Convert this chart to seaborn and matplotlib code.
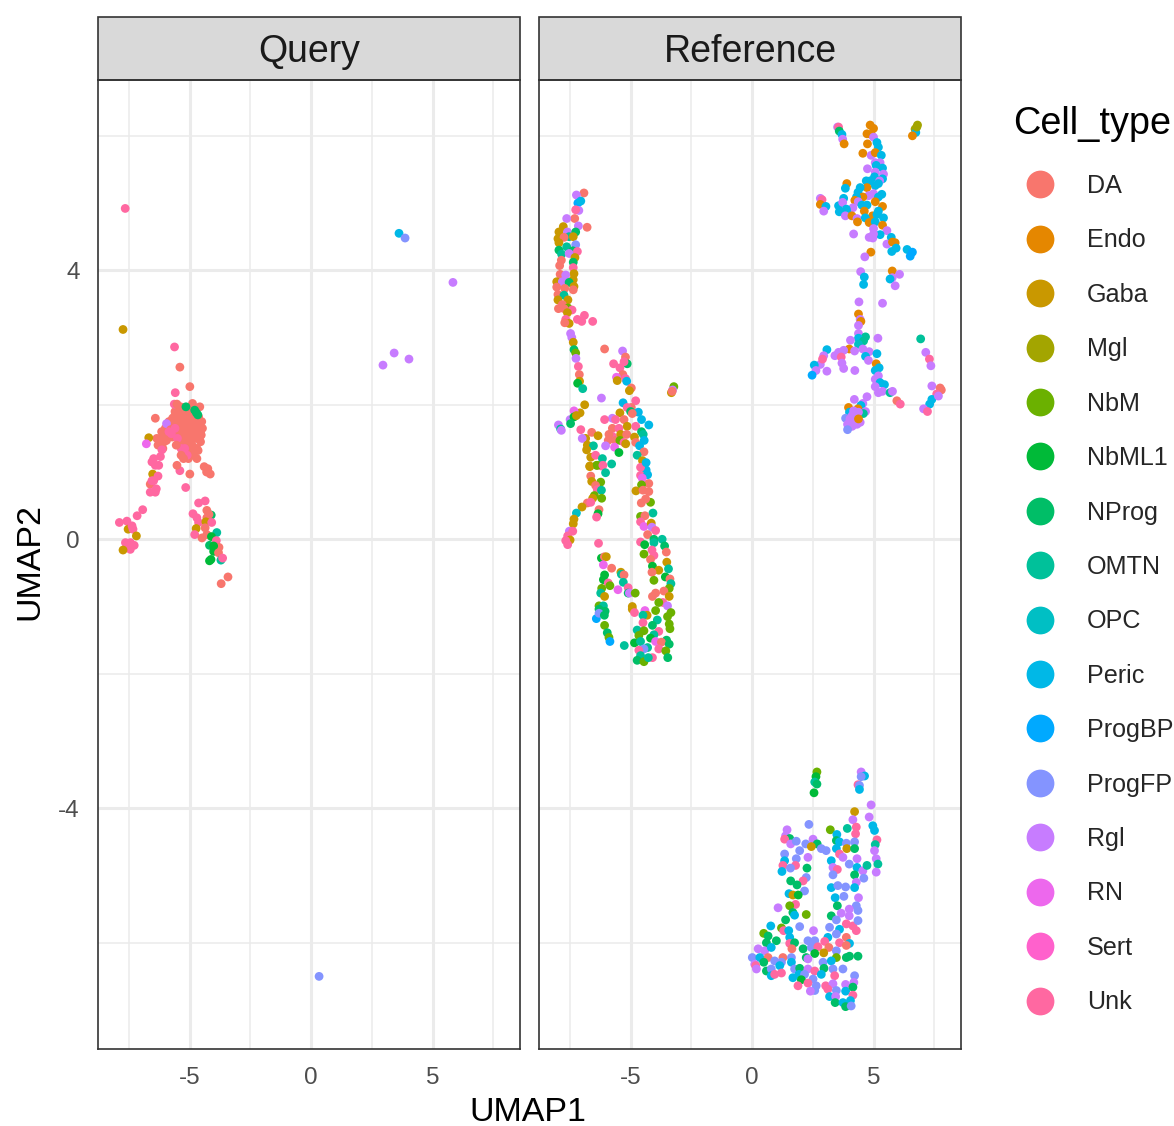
import matplotlib
matplotlib.use("Agg")
import matplotlib.pyplot as plt
from matplotlib.lines import Line2D
from matplotlib.patches import Rectangle
import pandas as pd
import seaborn as sns

W, H = 1174, 1126

cell_types = ["DA", "Endo", "Gaba", "Mgl", "NbM", "NbML1", "NProg", "OMTN",
              "OPC", "Peric", "ProgBP", "ProgFP", "Rgl", "RN", "Sert", "Unk"]
type_colors = ["#F8766D", "#E58700", "#C99800", "#A3A500", "#6BB100", "#00BA38",
               "#00BE67", "#00C19A", "#00BFC4", "#00B8E7", "#00A9FF", "#8494FF",
               "#C77CFF", "#ED68ED", "#FF61CC", "#FF68A1"]
DA, ENDO, GABA, MGL, NBM, NBML1, NPROG, OMTN, OPC, PERIC, BP, FP, RGL, RN, SERT, UNK = range(16)

# values: (UMAP1, UMAP2, cell type)
query_far = [(-7.65,4.92,UNK),(-7.74,3.12,GABA),(3.62,4.55,PERIC),(3.87,4.48,FP),(5.84,3.82,RGL),
             (2.96,2.59,RGL),(3.42,2.77,RGL),(4.03,2.68,RGL),(0.33,-6.5,FP)]
query_low_left = [(-6.93,0.44,UNK),(-7.16,0.35,UNK),(-7.89,0.25,UNK),(-7.58,0.27,UNK),(-7.53,0.15,GABA),
                  (-7.37,0.2,UNK),(-7.33,0.15,UNK),(-7.19,0.05,GABA),(-7.64,-0.05,UNK),(-7.44,-0.05,UNK),
                  (-7.28,-0.09,UNK),(-7.44,-0.15,UNK),(-7.58,-0.07,UNK),(-7.74,-0.16,GABA)]
query_left_arm = [(-6.52,0.97,GABA),(-6.3,0.94,UNK),(-6.62,0.82,DA),(-6.55,0.87,UNK),(-6.37,0.75,UNK),
                  (-6.62,0.7,UNK),(-6.41,0.7,UNK),(-6.48,0.87,UNK),(-5.16,0.77,UNK),(-4.99,0.97,DA),
                  (-5.4,1.02,UNK),(-5.52,1.1,DA),(-6.55,1.15,UNK),(-6.41,1.1,UNK),(-6.27,1.1,UNK),
                  (-6.48,1.2,UNK),(-6.2,1.23,UNK),(-6.14,1.33,UNK),(-6.68,1.51,GABA),(-6.78,1.42,RN)]
query_dome = [(-6.41,1.8,DA),(-6.2,1.5,DA),(-6.15,1.6,DA),(-6.0,1.65,DA),(-6.05,1.45,DA),(-5.9,1.55,DA),
              (-6.1,1.35,DA),(-6.3,1.4,DA),(-6.35,1.5,DA),(-5.85,1.75,DA),(-5.75,1.7,DA),(-5.7,1.8,DA),
              (-5.6,1.9,DA),(-5.6,1.75,DA),(-5.5,1.85,DA),(-5.45,1.95,DA),(-5.35,1.9,DA),(-5.3,1.8,DA),
              (-5.4,1.7,DA),(-5.25,1.95,DA),(-5.2,1.85,DA),(-5.1,1.9,DA),(-5.05,1.8,DA),(-5.15,1.7,DA),
              (-5.0,1.85,DA),(-4.95,1.7,DA),(-4.85,1.8,DA),(-4.8,1.7,DA),(-4.7,1.75,DA),(-4.6,1.7,DA),
              (-4.55,1.6,DA),(-4.7,1.6,DA),(-4.85,1.6,DA),(-5.0,1.6,DA),(-5.15,1.6,DA),(-5.3,1.6,DA),
              (-5.5,1.6,DA),(-5.65,1.6,DA),(-4.6,1.5,DA),(-4.75,1.5,DA),(-4.9,1.5,DA),(-5.05,1.5,DA),
              (-4.55,1.45,DA),(-4.7,1.35,DA),(-4.65,1.32,DA),(-4.9,1.4,DA),(-5.0,1.3,DA),(-5.15,1.4,DA),
              (-5.3,1.45,DA),(-4.85,1.25,DA),(-5.05,1.2,DA),(-4.7,1.2,DA),(-5.63,2.01,UNK),(-5.52,2.01,DA),
              (-5.62,2.86,UNK),(-5.4,2.56,DA),(-4.99,2.27,DA),(-5.59,2.18,UNK),(-4.88,2.02,DA),
              (-4.58,1.97,DA),(-5.95,1.72,RGL),(-5.42,1.82,DA),(-5.27,1.73,DA),(-5.08,1.74,DA),(-4.92,1.92,DA),
              (-4.78,1.83,DA),(-4.63,1.82,DA),(-5.55,1.67,DA),(-5.72,1.52,DA),(-5.95,1.47,DA),(-6.22,1.42,DA),
              (-6.08,1.55,DA),(-5.43,1.54,DA),(-5.22,1.52,DA),(-4.97,1.44,DA),(-4.82,1.36,DA),(-4.52,1.55,DA),
              (-4.47,1.65,DA),(-4.5,1.75,DA),(-5.62,1.83,DA),(-5.78,1.63,DA),(-5.37,1.97,DA),(-5.14,1.8,DA),
              (-5.85,1.6,UNK),(-5.6,1.65,UNK),(-5.75,1.57,UNK),(-5.5,1.5,UNK),(-5.35,1.35,UNK),(-5.55,1.4,DA),
              (-5.2,1.35,UNK),(-5.1,1.25,UNK),(-5.35,1.25,DA),(-5.25,1.2,DA),(-4.4,1.08,DA),(-4.25,1.05,DA),
              (-4.3,1.0,DA),(-4.15,0.97,DA),(-5.15,1.97,NPROG),(-4.79,1.92,NPROG),(-4.66,1.85,NPROG),(-4.72,1.88,NPROG)]
query_right_arm = [(-4.63,0.54,UNK),(-4.36,0.57,UNK),(-4.86,0.38,UNK),(-4.29,0.43,DA),(-4.11,0.36,NPROG),
                   (-4.7,0.32,UNK),(-4.63,0.25,UNK),(-4.29,0.32,DA),(-4.2,0.37,DA),(-4.33,0.26,GABA),
                   (-4.73,0.16,GABA),(-4.79,0.07,UNK),(-4.09,0.25,UNK),(-4.36,0.17,DA),(-3.88,0.1,OMTN),
                   (-4.49,0.02,DA),(-4.29,0.07,DA),(-4.1,0.04,NBML1),(-3.9,-0.02,UNK),(-3.79,-0.12,DA),
                   (-4.18,-0.09,NPROG),(-4.01,-0.1,NBML1),(-4.01,-0.18,NBML1),(-3.81,-0.2,DA),
                   (-4.18,-0.32,NBML1),(-4.12,-0.3,NBML1),(-3.71,-0.31,OMTN),(-3.64,-0.28,UNK),
                   (-3.42,-0.56,DA),(-3.7,-0.66,DA)]

ref_left_top = [(-6.92,5.15,DA),(-7.23,5.12,RGL),(-7.17,5.0,BP),(-7.05,5.03,PERIC),(-7.13,4.89,RGL),(-7.26,4.9,UNK),
                (-7.3,4.77,DA),(-7.63,4.77,RGL),(-7.15,4.66,RGL),(-6.79,4.64,DA),(-7.77,4.65,GABA),(-7.95,4.57,GABA),
                (-7.6,4.57,RGL),(-7.26,4.57,NPROG),(-7.53,4.5,OMTN),(-7.36,4.5,GABA),(-7.99,4.47,GABA),(-7.74,4.49,DA),
                (-7.95,4.41,GABA),(-7.26,4.38,FP),(-7.63,4.35,OMTN),(-7.95,4.3,NPROG),(-7.38,4.29,NPROG),(-7.19,4.28,UNK),
                (-7.84,4.24,OMTN),(-7.53,4.25,RGL),(-7.29,4.19,GABA),(-7.36,4.12,NPROG),(-7.85,4.15,DA),(-7.92,4.07,DA),
                (-7.36,4.04,UNK),(-7.9,3.94,DA),(-7.33,3.95,GABA),(-7.67,3.93,RGL),(-7.36,3.86,GABA),(-8.04,3.83,GABA),
                (-7.81,3.83,RGL),(-7.53,3.82,NPROG),(-7.33,3.76,GABA),(-8.04,3.75,DA),(-7.71,3.73,DA),(-7.36,3.71,DA),
                (-7.99,3.64,DA),(-7.74,3.63,OMTN),(-7.58,3.56,GABA),(-7.99,3.56,GABA),(-7.81,3.49,DA),(-7.58,3.44,NBM),
                (-7.97,3.43,DA),(-7.74,3.43,DA),(-7.41,3.41,UNK),(-7.6,3.37,GABA),(-7.67,3.27,UNK),(-7.53,3.21,GABA),
                (-7.71,3.22,DA),(-7.19,3.27,UNK),(-7.01,3.24,UNK),(-6.9,3.33,UNK),(-6.56,3.24,UNK)]
ref_left_mid = [(-7.47,3.06,RGL),(-7.42,3.0,RGL),(-7.36,2.93,GABA),(-7.33,2.82,NPROG),(-7.26,2.77,NBM),(-7.25,2.69,RGL),
                (-7.15,2.57,UNK),(-7.11,2.45,DA),(-7.1,2.35,GABA),(-7.18,2.32,NBML1),(-6.97,2.24,OMTN),(-6.07,2.83,DA),
                (-5.33,2.8,RGL),(-5.21,2.71,DA),(-5.14,2.61,NPROG),(-5.27,2.64,UNK),(-5.7,2.61,UNK),(-5.44,2.55,UNK),
                (-5.32,2.45,DA),(-5.58,2.41,RN),(-5.55,2.36,GABA),(-5.21,2.39,UNK),(-5.16,2.35,PERIC),(-4.97,2.25,DA),
                (-5.05,2.21,GABA),(-3.22,2.27,NBM),(-3.27,2.22,RGL),(-3.32,2.18,GABA),(-3.29,2.2,DA),(-6.2,2.1,RGL),
                (-6.89,2.0,GABA),(-7.08,1.88,GABA),(-7.33,1.91,RN),(-7.49,1.78,RGL),(-7.33,1.82,NBML1),(-7.23,1.84,GABA),
                (-7.47,1.72,NPROG),(-7.97,1.7,RGL),(-7.88,1.64,OMTN),(-7.85,1.62,RGL)]
ref_center = [(-5.31,2.03,PERIC),(-4.79,2.06,UNK),(-4.97,1.96,DA),(-5.14,1.96,UNK),(-5.44,1.88,GABA),(-5.0,1.9,NPROG),
              (-4.68,1.89,PERIC),(-4.93,1.87,DA),(-5.75,1.8,RGL),(-5.62,1.78,UNK),(-5.27,1.78,DA),(-4.55,1.78,PERIC),
              (-4.25,1.7,PERIC),(-6.07,1.78,UNK),(-7.05,1.63,UNK),(-6.6,1.59,DA),(-6.34,1.54,GABA),(-5.75,1.65,DA),
              (-5.48,1.65,UNK),(-5.14,1.68,GABA),(-4.79,1.68,UNK),(-4.55,1.6,NPROG),(-4.48,1.56,OMTN),(-5.75,1.53,UNK),
              (-5.89,1.56,DA),(-5.41,1.56,GABA),(-5.16,1.56,DA),(-4.84,1.52,GABA),(-4.44,1.47,PERIC),(-5.92,1.47,DA),
              (-5.62,1.47,DA),(-5.44,1.47,NBM),(-5.27,1.44,UNK),(-4.79,1.44,DA),(-4.63,1.39,PERIC),(-6.03,1.39,RGL),
              (-5.66,1.37,RN),(-5.2,1.42,GABA),(-4.45,1.3,DA),(-5.48,1.29,NBML1),(-4.73,1.25,OMTN),(-4.51,1.17,GABA),
              (-5.78,1.12,OMTN),(-4.36,1.03,PERIC),(-4.59,0.95,UNK),(-6.85,1.5,GABA),(-6.99,1.5,RGL),(-6.78,1.4,GABA),
              (-6.53,1.39,OMTN),(-6.81,1.33,GABA),(-6.64,1.22,GABA),(-6.44,1.25,UNK),(-6.16,1.2,OMTN),(-6.68,1.09,GABA),
              (-6.4,1.1,NBM),(-6.2,1.09,UNK)]
ref_left_low = [(-6.68,1.08,GABA),(-6.37,1.1,NBM),(-6.14,1.1,UNK),(-6.03,0.99,OMTN),(-6.64,0.94,DA),(-6.6,0.86,GABA),
                (-6.23,0.85,NBM),(-6.44,0.8,DA),(-6.37,0.74,UNK),(-6.2,0.73,OMTN),(-6.49,0.65,NBM),(-6.56,0.61,GABA),
                (-6.19,0.61,NBM),(-6.78,0.54,DA),(-7.0,0.48,GABA),(-6.64,0.55,UNK),(-7.23,0.39,OPC),(-7.33,0.3,GABA),
                (-7.36,0.23,GABA),(-6.3,0.44,DA),(-6.34,0.38,NBML1),(-6.4,0.33,UNK),(-7.52,0.12,RGL),(-7.38,0.12,UNK),
                (-7.59,0.05,UNK),(-7.49,-0.01,GABA),(-7.67,-0.02,UNK),(-7.59,-0.08,UNK),(-6.32,-0.06,UNK),(-6.2,-0.28,NBML1),
                (-6.08,-0.26,DA),(-6.0,-0.26,GABA),(-6.12,-0.38,RN),(-5.78,-0.43,DA),(-6.07,-0.53,NBML1),(-6.12,-0.6,NBML1),
                (-5.92,-0.65,UNK),(-5.85,-0.69,NBM),(-6.19,-0.73,NBM),(-6.23,-0.8,OMTN),(-6.07,-0.85,GABA),(-6.3,-0.99,NBM),
                (-6.12,-0.99,OMTN),(-6.3,-1.04,NPROG),(-6.05,-1.07,NPROG),(-6.41,-1.18,BP),(-6.3,-1.1,FP),(-6.08,-1.13,NPROG),
                (-6.07,-1.28,NBM),(-5.96,-1.39,NPROG),(-5.89,-1.46,NBM),(-5.85,-1.52,BP),(-5.26,-1.58,OMTN),(-5.4,-0.49,GABA),
                (-5.38,-0.52,OMTN),(-5.27,-0.53,DA),(-5.3,-0.64,OMTN),(-5.52,-0.75,RN),(-5.1,-0.72,UNK),(-5.1,-0.8,NPROG),
                (-5.05,-0.8,RGL),(-4.81,-0.8,NBM),(-4.93,-1.0,GABA),(-4.93,-1.04,GABA),(-4.84,-1.09,UNK)]
ref_right_arm = [(-4.59,1.07,UNK),(-4.36,1.14,PERIC),(-4.3,0.96,PERIC),(-4.52,0.91,RN),(-4.25,0.83,DA),(-4.55,0.81,NBM),
                 (-4.78,0.72,GABA),(-4.49,0.73,DA),(-4.25,0.71,DA),(-4.56,0.54,DA),(-4.18,0.55,NBM),(-4.38,0.6,DA),
                 (-4.08,0.39,OMTN),(-4.59,0.34,NBM),(-4.41,0.35,DA),(-4.59,0.26,UNK),(-4.45,0.19,RN),(-4.15,0.24,GABA),
                 (-4.12,0.18,RGL),(-3.97,0.13,UNK),(-4.3,0.07,DA),(-4.04,0.0,NPROG),(-3.7,0.0,OMTN),(-4.59,-0.04,UNK),
                 (-4.42,-0.08,NBML1),(-4.04,-0.05,OMTN),(-3.6,-0.1,NPROG),(-4.12,-0.16,UNK),(-3.53,-0.19,DA),(-4.45,-0.22,NBM),
                 (-4.04,-0.24,UNK),(-4.18,-0.3,DA),(-3.51,-0.34,GABA),(-4.1,-0.4,NBML1),(-3.84,-0.46,GABA),(-3.44,-0.44,OMTN),
                 (-4.12,-0.49,DA),(-3.57,-0.56,NBML1),(-3.38,-0.59,DA),(-4.04,-0.61,NBM),(-3.34,-0.66,OMTN),(-3.41,-0.73,NBM),
                 (-3.63,-0.77,DA),(-3.97,-0.8,DA),(-4.1,-0.85,DA),(-3.41,-0.85,GABA),(-3.67,-0.94,UNK),(-3.84,-0.94,NBM),
                 (-3.48,-0.99,RGL),(-3.34,-1.09,NBM),(-4.41,-1.06,RN),(-3.97,-1.06,NBM),(-4.32,-1.13,GABA),(-4.49,-1.13,OMTN),
                 (-3.48,-1.15,NBM),(-3.9,-1.2,OMTN),(-4.49,-1.24,UNK),(-4.1,-1.28,NPROG),(-3.41,-1.26,NBM),(-3.84,-1.37,UNK),
                 (-3.38,-1.33,NBM),(-4.73,-1.35,OMTN),(-4.45,-1.36,NBM),(-4.66,-1.43,NBM),(-4.04,-1.42,OMTN),(-4.18,-1.47,NBML1),
                 (-4.84,-1.54,NBML1),(-4.59,-1.52,OMTN),(-3.97,-1.52,RN),(-3.52,-1.5,NPROG),(-3.73,-1.53,DA),(-4.3,-1.61,OMTN),
                 (-4.45,-1.63,FP),(-4.66,-1.65,UNK),(-3.84,-1.63,UNK),(-3.41,-1.56,NPROG),(-3.55,-1.66,NBM),(-4.59,-1.73,OMTN),
                 (-4.73,-1.8,NPROG),(-4.45,-1.82,NBM),(-4.1,-1.76,UNK),(-3.47,-1.76,NPROG),(-4.27,-1.76,OMTN)]
ref_upper = [(3.52,6.13,RGL),(3.56,6.13,UNK),(3.59,6.07,NPROG),(3.7,6.02,PERIC),(3.73,5.95,RGL),(3.79,5.88,ENDO),
             (4.86,6.16,ENDO),(5.0,6.11,ENDO),(4.73,6.03,ENDO),(4.9,6.02,ENDO),(5.0,5.98,RGL),(5.14,5.9,PERIC),
             (4.75,5.88,ENDO),(5.2,5.83,PERIC),(4.56,5.74,ENDO),(4.9,5.71,RGL),(5.07,5.75,ENDO),(5.32,5.71,PERIC),
             (5.07,5.6,RGL),(5.27,5.6,RGL),(5.11,5.56,PERIC),(4.75,5.51,RGL),(5.37,5.52,PERIC),(5.07,5.46,RGL),
             (5.41,5.43,RGL),(5.04,5.39,PERIC),(5.37,5.36,PERIC),(5.25,5.33,RGL),(3.9,5.29,ENDO),(4.7,5.33,PERIC),
             (4.86,5.33,PERIC),(3.84,5.22,PERIC),(5.2,5.29,PERIC),(5.07,5.26,PERIC),(4.73,5.23,ENDO),(4.45,5.23,PERIC),
             (4.36,5.16,PERIC),(5.34,5.13,PERIC),(5.0,5.14,RGL),(4.8,5.11,RGL),(5.2,5.09,PERIC),(4.56,5.09,ENDO),
             (4.3,5.09,PERIC),(3.77,5.07,PERIC),(4.23,5.04,ENDO),(4.37,5.02,RGL),(5.07,5.02,ENDO),(2.81,5.07,RGL),
             (2.88,5.05,UNK),(2.81,4.98,ENDO),(3.04,4.95,PERIC),(2.95,4.88,RGL),(3.56,4.96,PERIC),(3.73,5.01,RGL),
             (4.52,4.97,PERIC),(4.73,4.97,PERIC),(5.37,4.95,ENDO),(4.15,4.93,RGL),(3.88,4.91,PERIC),(3.59,4.87,PERIC),
             (3.9,4.87,PERIC),(4.62,4.88,ENDO),(5.2,4.88,PERIC),(3.84,4.81,RGL),(4.11,4.81,ENDO),(4.96,4.81,ENDO),
             (5.14,4.83,PERIC),(5.41,4.78,PERIC),(4.32,4.77,RGL),(4.66,4.78,PERIC),(4.34,4.72,ENDO),(4.82,4.71,ENDO),
             (5.07,4.72,PERIC),(5.37,4.67,ENDO),(5.0,4.62,RGL),(5.55,4.59,RGL),(4.18,4.54,RGL),(5.27,4.53,PERIC),
             (5.0,4.54,RGL),(4.82,4.49,RGL),(4.97,4.48,RGL),(5.73,4.49,PERIC),(5.55,4.39,RGL),(5.89,4.41,ENDO),
             (5.78,4.42,ENDO),(5.93,4.33,PERIC),(5.75,4.28,PERIC),(6.38,4.31,PERIC),(6.6,4.27,BP),(6.51,4.21,BP),
             (4.89,4.27,ENDO),(4.64,4.2,RGL),(6.81,6.16,MGL),(6.71,6.1,MGL),(6.74,6.05,PERIC),(6.6,6.0,ENDO),(6.78,6.13,MGL),
             (4.47,3.98,RGL),(4.62,3.9,PERIC),(5.77,3.99,ENDO),(6.07,3.94,RGL),(5.77,3.89,RGL),(5.68,3.87,PERIC)]
ref_mid_right = [(4.59,3.79,PERIC),(5.89,3.77,RGL),(5.37,3.51,RGL),(4.4,3.53,RGL),(4.38,3.35,ENDO),(4.45,3.27,RGL),
                 (4.48,3.24,ENDO),(4.38,3.18,RGL),(4.38,3.06,RGL),(4.67,3.01,OMTN),(4.38,2.99,PERIC),(4.59,2.95,OMTN),
                 (4.05,2.96,RGL),(5.18,2.99,RGL),(6.94,2.98,OMTN),(4.38,2.9,OPC),(3.08,2.82,PERIC),(4.0,2.83,ENDO),
                 (3.77,2.81,RGL),(3.56,2.78,RGL),(3.41,2.73,RGL),(3.67,2.71,UNK),(4.22,2.8,RGL),(4.56,2.83,RGL),
                 (4.82,2.79,RGL),(5.14,2.76,PERIC),(4.67,2.72,PERIC),(2.95,2.73,RGL),(2.81,2.6,RGL),(2.9,2.68,UNK),
                 (2.56,2.59,PERIC),(2.63,2.51,RGL),(2.47,2.44,BP),(3.08,2.5,RGL),(3.7,2.62,RGL),(3.77,2.54,RGL),
                 (4.23,2.51,RGL),(4.79,2.66,RGL),(5.11,2.61,ENDO),(5.23,2.55,PERIC),(5.07,2.51,PERIC),(5.07,2.38,RGL),
                 (5.2,2.43,RGL),(5.27,2.33,PERIC),(5.45,2.3,PERIC),(5.07,2.27,RGL),(5.2,2.18,RGL),(5.37,2.2,RGL),
                 (5.68,2.18,OMTN),(5.78,2.2,RGL),(4.73,2.12,RGL),(4.21,2.08,RGL),(4.56,2.02,RGL),(5.96,2.06,DA),
                 (6.1,2.01,UNK),(7.15,2.78,RGL),(7.3,2.68,UNK),(7.36,2.58,RGL),(7.4,2.28,RGL),(7.74,2.25,DA),
                 (7.79,2.22,DA),(7.6,2.16,UNK),(7.4,2.08,PERIC),(7.31,2.01,PERIC),(7.06,1.94,RGL),(7.22,1.9,UNK),(7.67,2.13,RGL)]
ref_small_blob = [(3.97,1.96,ENDO),(4.01,1.89,PERIC),(4.48,1.99,PERIC),(4.36,1.94,ENDO),(4.67,1.9,RGL),(4.58,1.87,OMTN),
                  (4.38,1.89,RGL),(4.18,1.91,RGL),(3.85,1.8,FP),(4.03,1.79,RGL),(4.21,1.77,RGL),(4.45,1.74,RGL),
                  (3.93,1.71,RGL),(4.12,1.68,RGL),(4.32,1.71,RGL),(3.93,1.63,FP),(4.12,1.84,RGL),(4.38,1.79,ENDO)]
ref_bottom_top = [(2.67,-3.46,NBM),(2.63,-3.53,NBML1),(2.58,-3.61,OMTN),(2.67,-3.64,NPROG),(2.55,-3.77,NBML1),(4.49,-3.46,RGL),
                  (4.63,-3.52,PERIC),(4.49,-3.53,FP),(4.36,-3.65,UNK),(4.42,-3.66,FP),(4.42,-3.72,PERIC),(4.9,-3.95,RGL),
                  (4.22,-4.05,GABA),(4.82,-4.13,RGL),(4.15,-4.17,RGL),(4.97,-4.26,PERIC),(4.29,-4.28,UNK),(5.04,-4.33,PERIC),
                  (4.26,-4.38,UNK),(3.92,-4.3,OMTN),(3.22,-4.32,NBM),(2.34,-4.24,FP),(3.49,-4.39,PERIC),(1.44,-4.32,RGL),
                  (1.38,-4.41,RGL),(1.55,-4.45,NPROG),(1.34,-4.46,UNK),(1.59,-4.53,RGL),(1.82,-4.49,FP),(2.51,-4.46,RGL),
                  (2.21,-4.53,FP),(2.68,-4.53,NPROG),(2.44,-4.57,GABA),(1.96,-4.63,FP),(2.85,-4.6,FP),(3.05,-4.63,FP),
                  (3.47,-4.48,NPROG),(3.6,-4.5,PERIC),(3.88,-4.52,FP),(4.22,-4.5,FP),(5.14,-4.47,UNK),(5.07,-4.54,OMTN),
                  (3.47,-4.6,PERIC),(3.9,-4.6,GABA),(4.22,-4.6,NPROG),(5.04,-4.63,RGL),(3.6,-4.68,UNK),(1.34,-4.68,FP),
                  (1.82,-4.75,FP),(2.3,-4.73,RGL),(3.26,-4.78,PERIC),(3.74,-4.73,RGL),(4.32,-4.75,RGL),(5.11,-4.75,RGL),
                  (5.18,-4.83,OMTN),(1.34,-4.78,PERIC),(1.27,-4.85,UNK),(1.79,-4.85,UNK),(1.58,-4.89,FP),(1.23,-4.94,PERIC),
                  (2.26,-4.89,NPROG),(3.33,-4.88,RGL),(3.51,-4.91,UNK),(4.0,-4.83,FP),(4.32,-4.88,PERIC),(4.56,-4.93,RGL),
                  (4.73,-4.85,OMTN),(5.11,-4.95,RGL)]
ref_bottom_mid = [(3.33,-4.99,FP),(4.22,-4.99,NPROG),(2.23,-5.03,FP),(2.1,-5.08,UNK),(1.59,-5.08,NPROG),(1.85,-5.14,NPROG),
                  (4.6,-5.04,FP),(4.29,-5.1,RGL),(3.26,-5.18,PERIC),(3.53,-5.15,FP),(3.85,-5.17,FP),(4.22,-5.18,PERIC),
                  (2.16,-5.23,FP),(1.52,-5.27,PERIC),(1.68,-5.29,GABA),(1.9,-5.29,NBML1),(1.79,-5.43,UNK),(1.55,-5.45,NBM),
                  (1.07,-5.48,RGL),(3.42,-5.33,PERIC),(3.78,-5.31,FP),(4.38,-5.33,RGL),(3.51,-5.45,NPROG),(4.29,-5.45,FP),
                  (4.0,-5.5,RGL),(1.68,-5.55,NPROG),(1.75,-5.59,PERIC),(2.23,-5.58,NBM),(3.26,-5.6,NPROG),(3.67,-5.56,RGL),
                  (4.36,-5.52,FP),(1.38,-5.66,NPROG),(4.0,-5.6,RGL),(3.47,-5.66,FP),(1.96,-5.76,FP),(0.77,-5.75,PERIC),
                  (1.21,-5.78,NBM),(1.3,-5.82,UNK),(3.19,-5.77,FP),(3.88,-5.72,UNK),(4.15,-5.75,UNK),(4.36,-5.67,FP),
                  (2.53,-5.82,RGL),(3.6,-5.8,PERIC),(4.29,-5.82,UNK),(0.48,-5.86,NBM),(1.55,-5.92,PERIC),(0.66,-5.9,NPROG),
                  (3.12,-5.92,PERIC),(3.47,-5.87,FP),(3.88,-5.92,DA),(1.51,-5.82,PERIC)]
ref_bottom_low = [(1.0,-5.97,NPROG),(0.59,-6.0,NPROG),(0.25,-6.09,RGL),(1.55,-6.01,UNK),(1.75,-6.0,NPROG),(2.3,-5.97,FP),
                  (2.58,-5.97,FP),(2.99,-5.98,UNK),(3.6,-6.0,UNK),(4.01,-6.01,PERIC),(0.52,-6.12,RGL),(0.79,-6.07,PERIC),
                  (1.64,-6.09,DA),(2.1,-6.09,NPROG),(2.44,-6.07,FP),(2.71,-6.06,UNK),(3.16,-6.07,DA),(3.47,-6.12,FP),
                  (3.88,-6.04,DA),(0.01,-6.22,FP),(0.32,-6.22,PERIC),(0.66,-6.22,DA),(1.27,-6.22,DA),(1.62,-6.22,FP),
                  (2.23,-6.22,NPROG),(2.58,-6.16,NBML1),(2.95,-6.15,GABA),(3.47,-6.22,NBM),(3.88,-6.22,NPROG),(4.36,-6.2,NPROG),
                  (4.01,-6.2,NPROG),(0.11,-6.32,RGL),(0.48,-6.29,NPROG),(0.93,-6.27,FP),(1.21,-6.29,FP),(1.62,-6.29,PERIC),
                  (2.3,-6.24,RGL),(2.92,-6.29,FP),(3.26,-6.27,PERIC),(0.15,-6.34,UNK),(0.18,-6.39,RGL),(0.59,-6.42,NPROG),
                  (0.79,-6.39,FP),(1.14,-6.34,PERIC),(1.75,-6.39,FP),(1.96,-6.38,NPROG),(2.3,-6.39,RGL),(2.58,-6.42,UNK),
                  (2.96,-6.38,NPROG),(3.33,-6.39,FP),(3.74,-6.39,FP),(0.79,-6.49,PERIC),(0.93,-6.47,UNK),(1.21,-6.45,UNK),
                  (1.68,-6.52,PERIC),(1.93,-6.47,PERIC),(2.16,-6.47,FP),(2.85,-6.47,PERIC),(3.4,-6.49,UNK),(4.22,-6.49,FP),
                  (2.03,-6.55,NBML1),(2.51,-6.54,FP),(1.89,-6.64,UNK),(2.3,-6.6,UNK),(2.64,-6.64,FP),(3.03,-6.64,UNK),
                  (3.33,-6.61,RGL),(3.85,-6.62,RGL),(4.19,-6.59,RGL),(2.58,-6.71,FP),(2.4,-6.72,RGL),(3.12,-6.69,UNK),
                  (3.47,-6.71,FP),(3.85,-6.72,PERIC),(4.15,-6.66,NPROG),(3.19,-6.8,PERIC),(3.44,-6.8,RGL),(4.15,-6.78,UNK),
                  (4.05,-6.86,PERIC),(3.42,-6.89,NPROG),(3.74,-6.89,PERIC),(3.85,-6.95,NPROG),(4.08,-6.94,FP)]

query_points = query_dome + query_far + query_low_left + query_left_arm + query_right_arm
reference_points = (ref_left_top + ref_left_mid + ref_center + ref_left_low + ref_right_arm + ref_upper
                    + ref_mid_right + ref_small_blob + ref_bottom_top + ref_bottom_mid + ref_bottom_low)

x_major, x_minor = [-5, 0, 5], [-7.5, -2.5, 2.5, 7.5]
y_major, y_minor = [-4, 0, 4], [-6, -2, 2, 6]


def axes_at(left, top, right, bottom):
    return fig.add_axes([left / W, 1 - bottom / H, (right - left) / W, (bottom - top) / H])


def draw_panel(ax, points, title):
    df = pd.DataFrame(points, columns=["UMAP1", "UMAP2", "code"])
    df["Cell_type"] = [cell_types[c] for c in df["code"]]
    sns.scatterplot(data=df, x="UMAP1", y="UMAP2", hue="Cell_type", hue_order=cell_types,
                    palette=type_colors, s=40, linewidth=0, legend=False, ax=ax, zorder=3)
    ax.set_xlim(-8.77, 8.6)
    ax.set_ylim(-7.58, 6.83)
    ax.set_xticks(x_major)
    ax.set_xticks(x_minor, minor=True)
    ax.set_yticks(y_major)
    ax.set_yticks(y_minor, minor=True)
    ax.grid(which="major", color="#EBEBEB", lw=2.2, zorder=0)
    ax.grid(which="minor", color="#EBEBEB", lw=1.1, zorder=0)
    ax.set_axisbelow(True)
    ax.tick_params(which="minor", length=0)
    ax.tick_params(which="major", length=5, width=1.1, color="#333333", labelcolor="#4D4D4D",
                   labelsize=17.5)
    ax.tick_params(axis="x", which="major", pad=8)
    ax.tick_params(axis="y", which="major", pad=8)
    ax.set_xlabel("")
    ax.set_ylabel("")
    for sp in ax.spines.values():
        sp.set_color("#333333")
        sp.set_linewidth(1.2)
    # facet strip
    ax.add_patch(Rectangle((0, 1), 1, 63 / 969, transform=ax.transAxes, clip_on=False,
                           facecolor="#D9D9D9", edgecolor="#333333", lw=1.2))
    ax.text(0.5, 1 + 28 / 969, title, transform=ax.transAxes, ha="center", va="center",
            fontsize=27, color="#1A1A1A")


sns.set_theme(style="white")
plt.rcParams["font.family"] = ["Liberation Sans", "DejaVu Sans"]
plt.rcParams["axes.unicode_minus"] = False

fig = plt.figure(figsize=(W / 100, H / 100), dpi=100)
ax_query = axes_at(98, 80, 520, 1049)
ax_ref = axes_at(539, 80, 961, 1049)

draw_panel(ax_query, query_points, "Query")
draw_panel(ax_ref, reference_points, "Reference")
ax_ref.tick_params(axis="y", which="both", left=False, labelleft=False)

fig.text(528 / W, 1 - 1121 / H, "UMAP1", ha="center", va="baseline", fontsize=24.5, color="black")
fig.text(30 / W, 1 - 562 / H, "UMAP2", ha="center", va="center", rotation=90, fontsize=24.5, color="black")
fig.text(1013 / W, 1 - 124 / H, "Cell_type", ha="left", va="center", fontsize=27.3, color="black")

handles = [Line2D([], [], linestyle="", marker="o", markersize=20, markeredgewidth=0, color=c)
           for c in type_colors]
leg = fig.legend(handles, cell_types, loc="upper left", bbox_to_anchor=(1006 / W, 1 - 164 / H),
                 frameon=False, fontsize=18.1, labelspacing=1.21, handletextpad=0.92, handlelength=1.9,
                 borderpad=0.4, borderaxespad=0)

fig.savefig("out.png", dpi=100)
